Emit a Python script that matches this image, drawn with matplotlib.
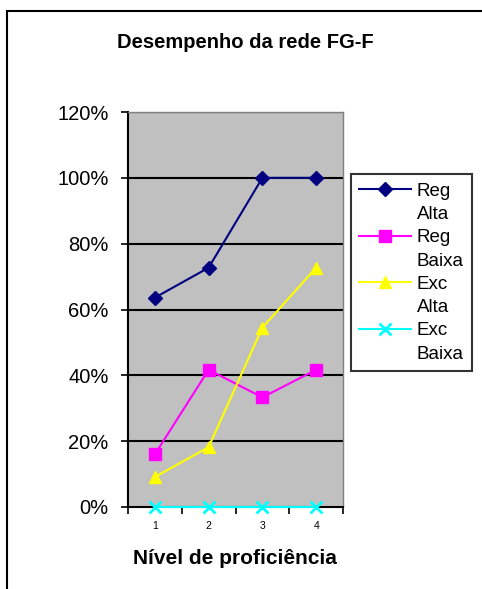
import numpy as np
import matplotlib
matplotlib.use("Agg")
import matplotlib.pyplot as plt
from matplotlib.lines import Line2D
from matplotlib.patches import Rectangle

plt.rcParams['font.family'] = ['Liberation Sans', 'DejaVu Sans']

# Desempenho por nivel de proficiencia (fracao de acertos)
niveis = [1, 2, 3, 4]
reg_alta = [0.636, 0.727, 1.00, 1.00]
reg_baixa = [0.16, 0.417, 0.333, 0.417]
exc_alta = [0.091, 0.182, 0.545, 0.727]
exc_baixa = [0.0, 0.0, 0.0, 0.0]

series = [
    ("Reg", "Alta", reg_alta, "#000080", "D", 7.5),
    ("Reg", "Baixa", reg_baixa, "#FF00FF", "s", 8),
    ("Exc", "Alta", exc_alta, "#FFFF00", "^", 8.5),
    ("Exc", "Baixa", exc_baixa, "#00FFFF", "x", 8),
]

W, H = 482, 589
fig = plt.figure(figsize=(W / 100, H / 100), dpi=100)
ax = fig.add_axes([128 / W, 1 - 507 / H, (343 - 128) / W, (507 - 112) / H])
ax.set_facecolor("#C0C0C0")

for y in np.arange(0.2, 1.21, 0.2):
    ax.axhline(y, color="black", lw=1.5, zorder=1)

handles, labels = [], []
blank = Line2D([], [], linestyle="none", marker="none")
for top, bottom, vals, color, mk, ms in series:
    line, = ax.plot(niveis, vals, color=color, lw=1.5, marker=mk, markersize=ms,
                    markeredgewidth=2 if mk == "x" else 1, clip_on=False, zorder=3)
    handles += [line, blank]
    labels += [top, bottom]

ax.set_xlim(0.5, 4.5)
ax.set_ylim(0, 1.2)
ax.set_yticks(np.arange(0, 1.21, 0.2))
ax.set_yticklabels([f"{int(round(v * 100))}%" for v in np.arange(0, 1.21, 0.2)], fontsize=14.5)
ax.tick_params(axis="y", direction="out", length=5, width=1.2, pad=9)

ax.set_xticks([0.5, 1.5, 2.5, 3.5, 4.5])
ax.set_xticklabels([])
ax.set_xticks(niveis, minor=True)
ax.set_xticklabels([str(n) for n in niveis], minor=True, fontsize=7.5)
ax.tick_params(axis="x", which="major", direction="out", length=5, width=1.2)
ax.tick_params(axis="x", which="minor", length=0, pad=10)

for side in ["left", "bottom"]:
    ax.spines[side].set_linewidth(1.5)
    ax.spines[side].set_color("black")
for side in ["top", "right"]:
    ax.spines[side].set_color("#808080")
    ax.spines[side].set_linewidth(1)

fig.text(245 / W, 1 - 43 / H, "Desempenho da rede FG-F", ha="center", va="center",
         fontsize=14.5, fontweight="bold")
fig.text(235 / W, 1 - 558 / H, "Nível de proficiência", ha="center", va="center",
         fontsize=15, fontweight="bold")

leg = fig.legend(handles, labels, loc="upper left", bbox_to_anchor=(351 / W, 1 - 174 / H),
                 bbox_transform=fig.transFigure, fontsize=13.5, frameon=True, fancybox=False,
                 handlelength=2.75, handletextpad=0.3, labelspacing=0.33, borderpad=0.45,
                 borderaxespad=0)
leg.get_frame().set_edgecolor("black")
leg.get_frame().set_linewidth(1.5)

fig.patches.append(Rectangle((7 / W, -0.1), 1.2, 1.1 - 11 / H, transform=fig.transFigure,
                             fill=False, edgecolor="black", lw=1.5))

fig.savefig("out.png", dpi=100)
